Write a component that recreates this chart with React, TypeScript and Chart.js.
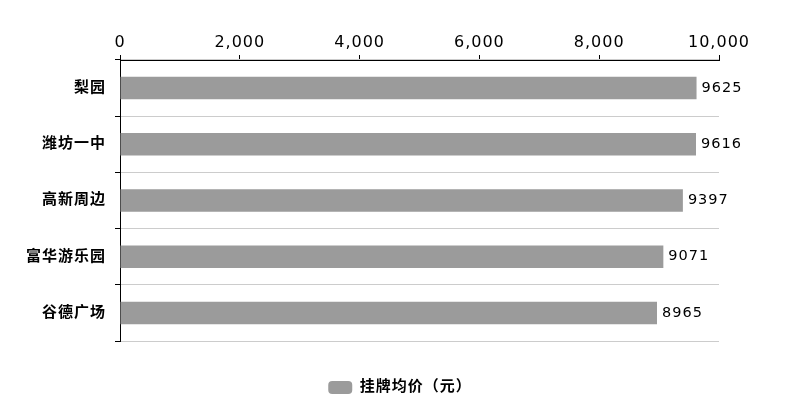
import { useEffect, useRef } from 'react';
import { Chart, registerables } from 'chart.js';

Chart.register(...registerables);

const districts = ['梨园', '潍坊一中', '高新周边', '富华游乐园', '谷德广场'];
const avgPrices = [9625, 9616, 9397, 9071, 8965];
const seriesName = '挂牌均价（元）';

const LATIN = 'DejaVu Sans, sans-serif';
const CJK = 'DejaVu Sans, "Noto Sans CJK SC", sans-serif';

const spacingPlugin = {
  id: 'spacing',
  beforeLayout(chart: Chart) {
    (chart.ctx as any).letterSpacing = '1px';
  },
  beforeDraw(chart: Chart) {
    (chart.ctx as any).letterSpacing = '1px';
  },
};

const valueLabels = {
  id: 'valueLabels',
  afterDatasetsDraw(chart: Chart) {
    const ctx = chart.ctx;
    const meta = chart.getDatasetMeta(0);
    ctx.save();
    ctx.font = `14.5px ${LATIN}`;
    ctx.fillStyle = '#000';
    ctx.textAlign = 'left';
    ctx.textBaseline = 'middle';
    meta.data.forEach((bar: any, i: number) => {
      ctx.fillText(String(avgPrices[i]), bar.x + 5, bar.y);
    });
    ctx.restore();
  },
};

export default function App() {
  const canvasRef = useRef<HTMLCanvasElement>(null);
  const chartRef = useRef<Chart | null>(null);

  useEffect(() => {
    document.body.style.margin = '0';
    if (!canvasRef.current) return;
    if (chartRef.current) chartRef.current.destroy();

    chartRef.current = new Chart(canvasRef.current, {
      type: 'bar',
      data: {
        labels: districts,
        datasets: [
          {
            label: seriesName,
            data: avgPrices,
            backgroundColor: '#9b9b9b',
            borderWidth: 0,
            categoryPercentage: 1,
            barPercentage: 0.4,
          },
        ],
      },
      options: {
        indexAxis: 'y',
        animation: false,
        responsive: true,
        maintainAspectRatio: false,
        layout: { padding: { left: 0, right: 0, top: 0, bottom: -5 } },
        plugins: {
          tooltip: { enabled: false },
          legend: {
            position: 'bottom',
            title: { display: true, text: '', font: { size: 10 }, padding: { top: 17, bottom: 0 } },
            labels: {
              font: { size: 15, weight: 'bold', family: CJK },
              color: '#000',
              boxWidth: 24,
              boxHeight: 13,
              useBorderRadius: true,
              borderRadius: 4,
              padding: 10,
            },
          },
        },
        scales: {
          x: {
            position: 'top',
            min: 0,
            max: 10000,
            ticks: {
              stepSize: 2000,
              color: '#000',
              padding: 3,
              font: { size: 16, family: LATIN },
              callback: (v: any) => Number(v).toLocaleString('en-US'),
            },
            grid: { drawOnChartArea: false, drawTicks: true, tickLength: 5, color: '#000' },
            border: { color: '#000' },
            afterFit: (scale: any) => {
              scale.height = 60;
            },
          },
          y: {
            ticks: {
              color: '#000',
              padding: 9,
              font: { size: 15, weight: 'bold', family: CJK },
            },
            grid: { offset: true, color: '#cccccc', tickColor: '#000', tickLength: 5 },
            border: { color: '#000' },
            afterFit: (scale: any) => {
              scale.width = 120;
            },
          },
          // empty right-hand spacer so the plot ends where the reference does
          yRight: {
            type: 'category',
            position: 'right',
            ticks: { display: false },
            grid: { display: false },
            border: { display: false },
            afterFit: (scale: any) => {
              scale.width = 81;
            },
          },
        },
      },
      plugins: [spacingPlugin, valueLabels],
    });

    return () => {
      if (chartRef.current) {
        chartRef.current.destroy();
        chartRef.current = null;
      }
    };
  }, []);

  return (
    <div style={{ width: '800px', height: '400px' }}>
      <canvas ref={canvasRef}></canvas>
    </div>
  );
}
